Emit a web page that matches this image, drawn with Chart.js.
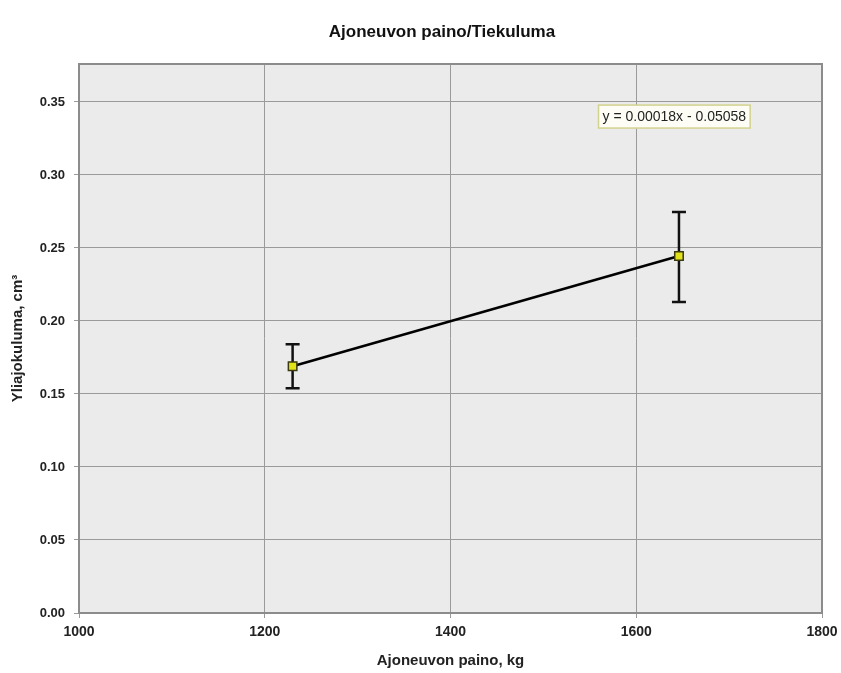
<!DOCTYPE html>
<html>
<head>
<meta charset="utf-8">
<script src="https://cdn.jsdelivr.net/npm/chart.js@4"></script>
<style>
  html, body { margin: 0; padding: 0; background: #fff; }
  #wrap { width: 841px; height: 673px; }
</style>
</head>
<body>
<div id="wrap"><canvas id="chart"></canvas></div>
<script>
const weights = [1230, 1646];
const wear = [0.169, 0.2445];
const errLow = [0.154, 0.213];
const errHigh = [0.184, 0.2747];
const xTicks = [1000, 1200, 1400, 1600, 1800];
const yTicks = [0, 0.05, 0.10, 0.15, 0.20, 0.25, 0.30, 0.35];
const title = 'Ajoneuvon paino/Tiekuluma';
const equation = 'y = 0.00018x - 0.05058';

const font = '"Liberation Sans", Arial, sans-serif';

const plotBg = {
    id: 'plotBg',
    beforeDraw(chart) {
        const { ctx, chartArea: a } = chart;
        ctx.save();
        ctx.fillStyle = '#ebebeb';
        ctx.fillRect(a.left, a.top, a.right - a.left, a.bottom - a.top);
        ctx.restore();
    },
    afterDatasetsDraw(chart) {
        const { ctx, chartArea: a } = chart;
        ctx.save();
        ctx.strokeStyle = '#8c8c8c';
        ctx.lineWidth = 2;
        ctx.strokeRect(a.left, a.top, a.right - a.left, a.bottom - a.top);
        // chart title, centred a little left of the plot centre like the original
        ctx.fillStyle = '#111';
        ctx.font = 'bold 17px ' + font;
        ctx.textAlign = 'center';
        ctx.textBaseline = 'middle';
        ctx.fillText(title, 442, 32);
        ctx.restore();
    }
};

const errorBars = {
    id: 'errorBars',
    beforeDatasetsDraw(chart) {
        const { ctx, scales: { x, y } } = chart;
        ctx.save();
        ctx.strokeStyle = '#111';
        ctx.lineWidth = 2.5;
        weights.forEach((w, i) => {
            const px = x.getPixelForValue(w);
            const top = y.getPixelForValue(errHigh[i]);
            const bot = y.getPixelForValue(errLow[i]);
            ctx.beginPath();
            ctx.moveTo(px, top); ctx.lineTo(px, bot);
            ctx.moveTo(px - 7, top); ctx.lineTo(px + 7, top);
            ctx.moveTo(px - 7, bot); ctx.lineTo(px + 7, bot);
            ctx.stroke();
        });
        ctx.restore();
    }
};

const eqLabel = {
    id: 'eqLabel',
    afterDraw(chart) {
        const { ctx, scales: { x, y } } = chart;
        const cx = x.getPixelForValue(1641);
        const cy = y.getPixelForValue(0.340);
        ctx.save();
        ctx.font = '14px ' + font;
        const w = ctx.measureText(equation).width + 8;
        const h = 23;
        ctx.fillStyle = '#fdfdf6';
        ctx.fillRect(cx - w / 2, cy - h / 2, w, h);
        ctx.strokeStyle = '#d2d28e';
        ctx.lineWidth = 1.5;
        ctx.strokeRect(cx - w / 2, cy - h / 2, w, h);
        ctx.fillStyle = '#222';
        ctx.textAlign = 'center';
        ctx.textBaseline = 'middle';
        ctx.fillText(equation, cx, cy + 1);
        ctx.restore();
    }
};

new Chart(document.getElementById('chart'), {
    type: 'scatter',
    data: {
        datasets: [{
            data: weights.map((w, i) => ({ x: w, y: wear[i] })),
            showLine: true,
            borderColor: '#000',
            borderWidth: 2.5,
            pointStyle: 'rect',
            pointRadius: 6,
            pointBackgroundColor: '#e2e21a',
            pointBorderColor: '#3a3a10',
            pointBorderWidth: 1.5
        }]
    },
    options: {
        responsive: true,
        maintainAspectRatio: false,
        animation: false,
        layout: { padding: { left: 0, top: 64, right: 0, bottom: 0 } },
        plugins: {
            legend: { display: false },
            tooltip: { enabled: false },
            title: { display: false }
        },
        scales: {
            x: {
                type: 'linear',
                min: 1000,
                max: 1800,
                afterFit: s => { s.height = 60; s.paddingRight = 19; },
                afterBuildTicks: s => { s.ticks = xTicks.map(v => ({ value: v })); },
                grid: { color: '#9a9a9a', lineWidth: 1, tickLength: 5, drawTicks: true },
                border: { display: false },
                ticks: {
                    padding: 6,
                    color: '#222',
                    font: { family: font, size: 14, weight: 'bold' },
                    callback: v => String(v)
                },
                title: {
                    display: true,
                    text: 'Ajoneuvon paino, kg',
                    color: '#222',
                    font: { family: font, size: 15, weight: 'bold' },
                    padding: { top: 0, bottom: 3 }
                }
            },
            y: {
                type: 'linear',
                min: 0,
                max: 0.376,
                afterFit: s => { s.width = 79; },
                afterBuildTicks: s => { s.ticks = yTicks.map(v => ({ value: v })); },
                grid: { color: '#9a9a9a', lineWidth: 1, tickLength: 5, drawTicks: true },
                border: { display: false },
                ticks: {
                    padding: 9,
                    color: '#222',
                    font: { family: font, size: 13, weight: 'bold' },
                    callback: v => v.toFixed(2)
                },
                title: {
                    display: true,
                    text: 'Yliajokuluma, cm³',
                    color: '#222',
                    font: { family: font, size: 15, weight: 'bold' },
                    padding: { top: 9, bottom: 0 }
                }
            }
        }
    },
    plugins: [plotBg, errorBars, eqLabel]
});
</script>
</body>
</html>
